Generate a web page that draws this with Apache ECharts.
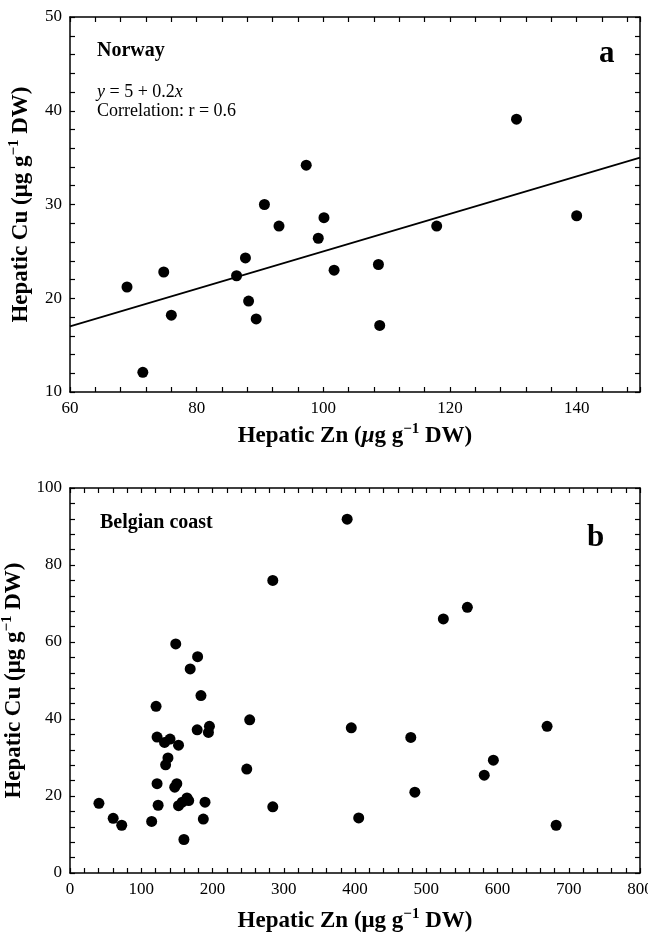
<!DOCTYPE html>
<html><head><meta charset="utf-8">
<script src="https://cdn.jsdelivr.net/npm/echarts@6/dist/echarts.min.js"></script>
<style>html,body{margin:0;padding:0;background:#fff}#c{width:648px;height:933px}</style>
</head><body><div id="c"></div>
<script>
// Panel a: Norway
const norwayZn = [69.0, 71.5, 74.8, 76.0, 86.3, 87.7, 88.2, 89.4, 90.7, 93.0, 97.3, 99.2, 100.1, 101.7, 108.7, 108.9, 117.9, 130.5, 140.0];
const norwayCu = [21.2, 12.1, 22.8, 18.2, 22.4, 24.3, 19.7, 17.8, 30.0, 27.7, 34.2, 26.4, 28.6, 23.0, 23.6, 17.1, 27.7, 39.1, 28.8];
// regression line y = 5 + 0.2x, end points
const fitZn = [60, 150];
const fitCu = [17, 35];
// Panel b: Belgian coast
const belgZn = [389, 284.6, 524, 557.7, 148.4, 179.1, 168.7,
  183.8, 120.8, 178.5, 195.7, 194.3, 122.2, 140.4, 132.7, 152.3, 137.5, 134.2, 122.2, 149.9, 147.0,
  40.6, 123.7, 152.3, 157.5, 164.2, 166.6, 189.5, 60.6, 72.6, 114.6, 187.1, 159.9,
  252.2, 394.8, 669.6, 478.3, 594.2, 248.1, 581.4, 484, 284.6, 405.2, 682.3];
const belgCu = [91.9, 76.0, 66.0, 69.0, 59.5, 56.2, 53.0,
  46.1, 43.3, 37.2, 38.1, 36.5, 35.3, 34.8, 33.9, 33.2, 29.9, 28.1, 23.2, 23.2, 22.3,
  18.1, 17.6, 17.5, 18.4, 19.5, 18.8, 18.4, 14.2, 12.4, 13.4, 14.0, 8.7,
  39.8, 37.7, 38.1, 35.2, 29.3, 27.0, 25.4, 21.0, 17.2, 14.3, 12.4];
// axis ranges / tick spacing
const axA = {xMin: 60, xMax: 150, xInt: 20, yMin: 10, yMax: 50, yInt: 10};
const axB = {xMin: 0, xMax: 800, xInt: 100, yMin: 0, yMax: 100, yInt: 20};

const FONT = '"Liberation Serif", "DejaVu Serif", serif';
const lineStyle = {color: '#000', width: 1.5};
const NF = 23;

function richName(extra) {
  return Object.assign({
    b: {fontFamily: FONT, fontSize: NF, fontWeight: 'bold', color: '#000'},
    mi: {fontFamily: FONT, fontSize: NF, fontWeight: 'bold', fontStyle: 'italic', color: '#000'},
    sup: {fontFamily: FONT, fontSize: 15, fontWeight: 'bold', color: '#000', padding: [0, 0, 13, 0]}
  }, extra || {});
}
function xAx(grid, a, pos, labels, name) {
  return {
    type: 'value', gridIndex: grid, position: pos, min: a.xMin, max: a.xMax, interval: a.xInt,
    axisLine: {show: true, onZero: false, lineStyle: lineStyle},
    axisTick: {show: true, inside: true, length: 5, lineStyle: {color: '#000', width: 1.2}},
    minorTick: {show: true, splitNumber: 5, length: 5, lineStyle: {color: '#000', width: 1.2}},
    splitLine: {show: false}, minorSplitLine: {show: false},
    axisLabel: {show: labels, color: '#000', fontFamily: FONT, fontSize: 17, margin: 8, showMaxLabel: a.xMax % a.xInt === 0},
    name: name || '', nameLocation: 'middle', nameGap: 30,
    nameTextStyle: {color: '#000', fontFamily: FONT, fontSize: NF, fontWeight: 'bold', rich: richName()}
  };
}
function yAx(grid, a, pos, labels, name) {
  return {
    type: 'value', gridIndex: grid, position: pos, min: a.yMin, max: a.yMax, interval: a.yInt,
    axisLine: {show: true, onZero: false, lineStyle: lineStyle},
    axisTick: {show: true, inside: true, length: 5, lineStyle: {color: '#000', width: 1.2}},
    minorTick: {show: true, splitNumber: 5, length: 5, lineStyle: {color: '#000', width: 1.2}},
    splitLine: {show: false}, minorSplitLine: {show: false},
    axisLabel: {show: labels, color: '#000', fontFamily: FONT, fontSize: 17, margin: 8},
    name: name || '', nameLocation: 'middle', nameGap: 35,
    nameTextStyle: {color: '#000', fontFamily: FONT, fontSize: NF, fontWeight: 'bold', rich: richName()}
  };
}
const yName = '{b|Hepatic Cu (μg g}{sup|−1}{b| DW)}';
const xNameA = '{b|Hepatic Zn (}{mi|μ}{b|g g}{sup|−1}{b| DW)}';
const xNameB = '{b|Hepatic Zn (μg g}{sup|−1}{b| DW)}';

const xa0 = xAx(0, axA, 'bottom', true, xNameA);
const xb0 = xAx(1, axB, 'bottom', true, xNameB); xb0.nameGap = 34;

const option = {
  animation: false,
  backgroundColor: '#fff',
  grid: [
    {left: 70, right: 8, top: 17, height: 375, containLabel: false, outerBoundsMode: 'none'},
    {left: 70, right: 8, top: 488, height: 385, containLabel: false, outerBoundsMode: 'none'}
  ],
  xAxis: [xa0, xAx(0, axA, 'top', false), xb0, xAx(1, axB, 'top', false)],
  yAxis: [yAx(0, axA, 'left', true, yName), yAx(0, axA, 'right', false), yAx(1, axB, 'left', true, yName), yAx(1, axB, 'right', false)],
  title: [
    {text: 'Norway', left: 92, top: 36, textStyle: {fontFamily: FONT, fontSize: 20, fontWeight: 'bold', color: '#000'}},
    {text: '{i|y} = 5 + 0.2{i|x}\nCorrelation: r = 0.6', left: 92, top: 78,
      textStyle: {fontFamily: FONT, fontSize: 18, fontWeight: 'normal', color: '#000', lineHeight: 19,
        rich: {i: {fontFamily: FONT, fontSize: 18, fontStyle: 'italic', color: '#000', lineHeight: 19}}}},
    {text: 'a', left: 594, top: 33, textStyle: {fontFamily: FONT, fontSize: 31, fontWeight: 'bold', color: '#000'}},
    {text: 'Belgian coast', left: 95, top: 508, textStyle: {fontFamily: FONT, fontSize: 20, fontWeight: 'bold', color: '#000'}},
    {text: 'b', left: 582, top: 517, textStyle: {fontFamily: FONT, fontSize: 31, fontWeight: 'bold', color: '#000'}}
  ],
  series: [
    {type: 'line', xAxisIndex: 0, yAxisIndex: 0, data: fitZn.map((v, i) => [v, fitCu[i]]),
      symbol: 'none', lineStyle: {color: '#000', width: 1.6}, z: 1},
    {type: 'scatter', xAxisIndex: 0, yAxisIndex: 0, data: norwayZn.map((v, i) => [v, norwayCu[i]]),
      symbolSize: 11, itemStyle: {color: '#000', opacity: 1}, z: 2},
    {type: 'scatter', xAxisIndex: 2, yAxisIndex: 2, data: belgZn.map((v, i) => [v, belgCu[i]]),
      symbolSize: 11, itemStyle: {color: '#000', opacity: 1}, z: 2}
  ]
};
const chart = echarts.init(document.getElementById('c'), null, {renderer: 'canvas'});
chart.setOption(option);
</script>
</body></html>
